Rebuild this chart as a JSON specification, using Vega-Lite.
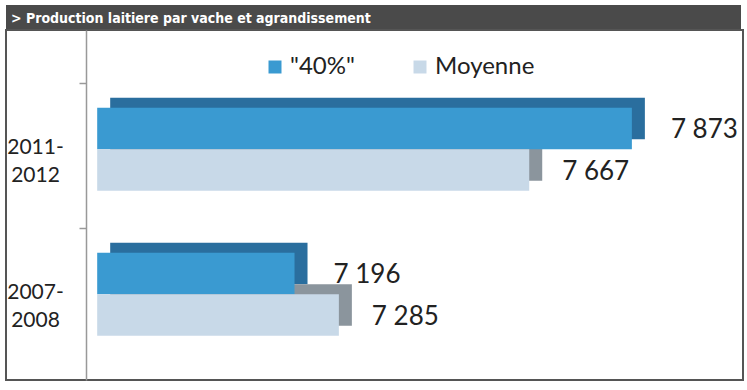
{
  "$schema": "https://vega.github.io/schema/vega-lite/v6.json",
  "background": "white",
  "padding": {"left": 5, "top": 5, "right": 5, "bottom": 5},
  "spacing": 0,
  "bounds": "flush",
  "config": {
    "view": {"stroke": null},
    "concat": {"spacing": 0},
    "locale": {"number": {"decimal": ",", "thousands": " ", "grouping": [3], "currency": ["", " €"]}},
    "font": "Lato"
  },
  "vconcat": [
    {
      "width": 735,
      "height": 25,
      "view": {"fill": "#4a4a4a", "stroke": null},
      "data": {"values": [{"t": "> Production laitiere par vache et  agrandissement", "px": 0, "py": 0.5}]},
      "mark": {"type": "text", "align": "left", "baseline": "middle", "dx": 5, "dy": 1, "color": "white", "font": "'DejaVu Sans Condensed', 'Liberation Sans Narrow', Roboto, sans-serif", "fontWeight": "bold", "fontSize": 14},
      "encoding": {
        "text": {"field": "t"},
        "x": {"field": "px", "type": "quantitative", "scale": {"domain": [0, 1]}, "axis": null},
        "y": {"field": "py", "type": "quantitative", "scale": {"domain": [0, 1]}, "axis": null}
      }
    },
    {
      "width": 737,
      "height": 350,
      "view": {"stroke": "#555555", "strokeWidth": 2},
      "data": {
        "values": [
          {"group": "2011-2012", "series": "\"40%\"", "value": 7873},
          {"group": "2011-2012", "series": "Moyenne", "value": 7667},
          {"group": "2007-2008", "series": "\"40%\"", "value": 7196},
          {"group": "2007-2008", "series": "Moyenne", "value": 7285}
        ]
      },
      "encoding": {
        "y": {
          "field": "group",
          "type": "nominal",
          "sort": ["2011-2012", "2007-2008"],
          "scale": {"paddingInner": 0.4276, "paddingOuter": 0.4207, "align": 0.637},
          "axis": {
            "title": null,
            "offset": -80,
            "domainColor": "#999999",
            "domainWidth": 1.5,
            "tickColor": "#999999",
            "tickWidth": 1.5,
            "tickSize": 7,
            "tickOffset": -66,
            "labelPadding": 44,
            "labelAlign": "center",
            "labelBaseline": "middle",
            "labelOffset": 64,
            "labelFontSize": 21,
            "labelLineHeight": 28,
            "labelColor": "#222222",
            "labelExpr": "[slice(datum.label, 0, 5), slice(datum.label, 5)]"
          }
        },
        "x": {
          "field": "value",
          "type": "quantitative",
          "scale": {"domain": [6617, 8096], "nice": false, "zero": false},
          "axis": null
        }
      },
      "layer": [
        {
          "transform": [{"filter": "datum.series == '\"40%\"'"}],
          "mark": {"type": "bar", "height": {"band": 0.5}, "xOffset": 13, "x2Offset": 13, "yOffset": -30.75, "y2Offset": -30.75, "color": "#2a6e9e"},
          "encoding": {"x2": {"datum": 6800}}
        },
        {
          "transform": [{"filter": "datum.series == 'Moyenne'"}],
          "mark": {"type": "bar", "height": {"band": 0.5}, "xOffset": 13, "x2Offset": 13, "yOffset": 10.75, "y2Offset": 10.75, "color": "#8b959d"},
          "encoding": {"x2": {"datum": 6800}}
        },
        {
          "transform": [{"filter": "datum.series == '\"40%\"'"}],
          "mark": {"type": "bar", "height": {"band": 0.5}, "yOffset": -20.75, "y2Offset": -20.75},
          "encoding": {
            "x2": {"datum": 6800},
            "color": {
              "field": "series",
              "type": "nominal",
              "scale": {"domain": ["\"40%\"", "Moyenne"], "range": ["#3a9ad1", "#c8d9e8"]},
              "legend": {
                "title": null,
                "orient": "none",
                "legendX": 257,
                "legendY": 50,
                "direction": "horizontal",
                "columns": 2,
                "columnPadding": 53,
                "padding": 0,
                "symbolType": "square",
                "symbolSize": 169,
                "symbolStrokeWidth": 0,
                "symbolOpacity": 1,
                "labelOffset": 3,
                "labelFontSize": 24,
                "labelColor": "#222222"
              }
            }
          }
        },
        {
          "transform": [{"filter": "datum.series == 'Moyenne'"}],
          "mark": {"type": "bar", "height": {"band": 0.5}, "yOffset": 20.75, "y2Offset": 20.75},
          "encoding": {
            "x2": {"datum": 6800},
            "color": {"field": "series", "type": "nominal"}
          }
        },
        {
          "transform": [{"filter": "datum.series == '\"40%\"'"}],
          "mark": {"type": "text", "align": "left", "baseline": "middle", "dx": 39, "dy": 2, "yOffset": -20.75, "fontSize": 26, "color": "#222222"},
          "encoding": {"text": {"field": "value", "type": "quantitative", "format": ",d"}}
        },
        {
          "transform": [{"filter": "datum.series == 'Moyenne'"}],
          "mark": {"type": "text", "align": "left", "baseline": "middle", "dx": 33, "dy": 2, "yOffset": 20.75, "fontSize": 26, "color": "#222222"},
          "encoding": {"text": {"field": "value", "type": "quantitative", "format": ",d"}}
        }
      ]
    }
  ]
}
